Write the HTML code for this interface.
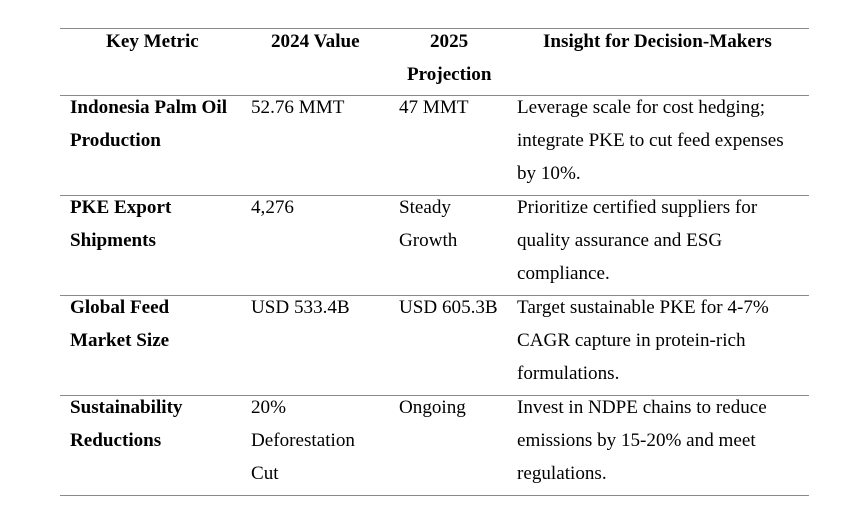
<!DOCTYPE html><html><head><style>
body{margin:0;width:868px;height:515px;background:#fff;position:relative;font-family:"Liberation Serif",serif;font-size:19.1px;color:#000}
.l{position:absolute;left:60px;width:749px;height:1px;background:#8a8a8a}
.t{position:absolute;height:33px;line-height:33px;white-space:nowrap}
.b{font-weight:bold}
</style></head><body>
<div class="l" style="top:28px"></div><div class="l" style="top:95px"></div><div class="l" style="top:195px"></div><div class="l" style="top:295px"></div><div class="l" style="top:395px"></div><div class="l" style="top:495px"></div>
<div class="t b" style="left:106px;top:25px">Key Metric</div>
<div class="t b" style="left:271px;top:25px">2024 Value</div>
<div class="t b" style="left:430px;top:25px">2025</div>
<div class="t b" style="left:407px;top:58px">Projection</div>
<div class="t b" style="left:543px;top:25px">Insight for Decision-Makers</div>

<div class="t b" style="left:70px;top:91px">Indonesia Palm Oil</div>
<div class="t b" style="left:70px;top:124px">Production</div>
<div class="t" style="left:251px;top:91px">52.76 MMT</div>
<div class="t" style="left:399px;top:91px">47 MMT</div>
<div class="t" style="left:517px;top:91px">Leverage scale for cost hedging;</div>
<div class="t" style="left:517px;top:124px">integrate PKE to cut feed expenses</div>
<div class="t" style="left:517px;top:157px">by 10%.</div>

<div class="t b" style="left:70px;top:191px">PKE Export</div>
<div class="t b" style="left:70px;top:224px">Shipments</div>
<div class="t" style="left:251px;top:191px">4,276</div>
<div class="t" style="left:399px;top:191px">Steady</div>
<div class="t" style="left:399px;top:224px">Growth</div>
<div class="t" style="left:517px;top:191px">Prioritize certified suppliers for</div>
<div class="t" style="left:517px;top:224px">quality assurance and ESG</div>
<div class="t" style="left:517px;top:257px">compliance.</div>

<div class="t b" style="left:70px;top:291px">Global Feed</div>
<div class="t b" style="left:70px;top:324px">Market Size</div>
<div class="t" style="left:251px;top:291px">USD 533.4B</div>
<div class="t" style="left:399px;top:291px">USD 605.3B</div>
<div class="t" style="left:517px;top:291px">Target sustainable PKE for 4-7%</div>
<div class="t" style="left:517px;top:324px">CAGR capture in protein-rich</div>
<div class="t" style="left:517px;top:357px">formulations.</div>

<div class="t b" style="left:70px;top:391px">Sustainability</div>
<div class="t b" style="left:70px;top:424px">Reductions</div>
<div class="t" style="left:251px;top:391px">20%</div>
<div class="t" style="left:251px;top:424px">Deforestation</div>
<div class="t" style="left:251px;top:457px">Cut</div>
<div class="t" style="left:399px;top:391px">Ongoing</div>
<div class="t" style="left:517px;top:391px">Invest in NDPE chains to reduce</div>
<div class="t" style="left:517px;top:424px">emissions by 15-20% and meet</div>
<div class="t" style="left:517px;top:457px">regulations.</div>
</body></html>
